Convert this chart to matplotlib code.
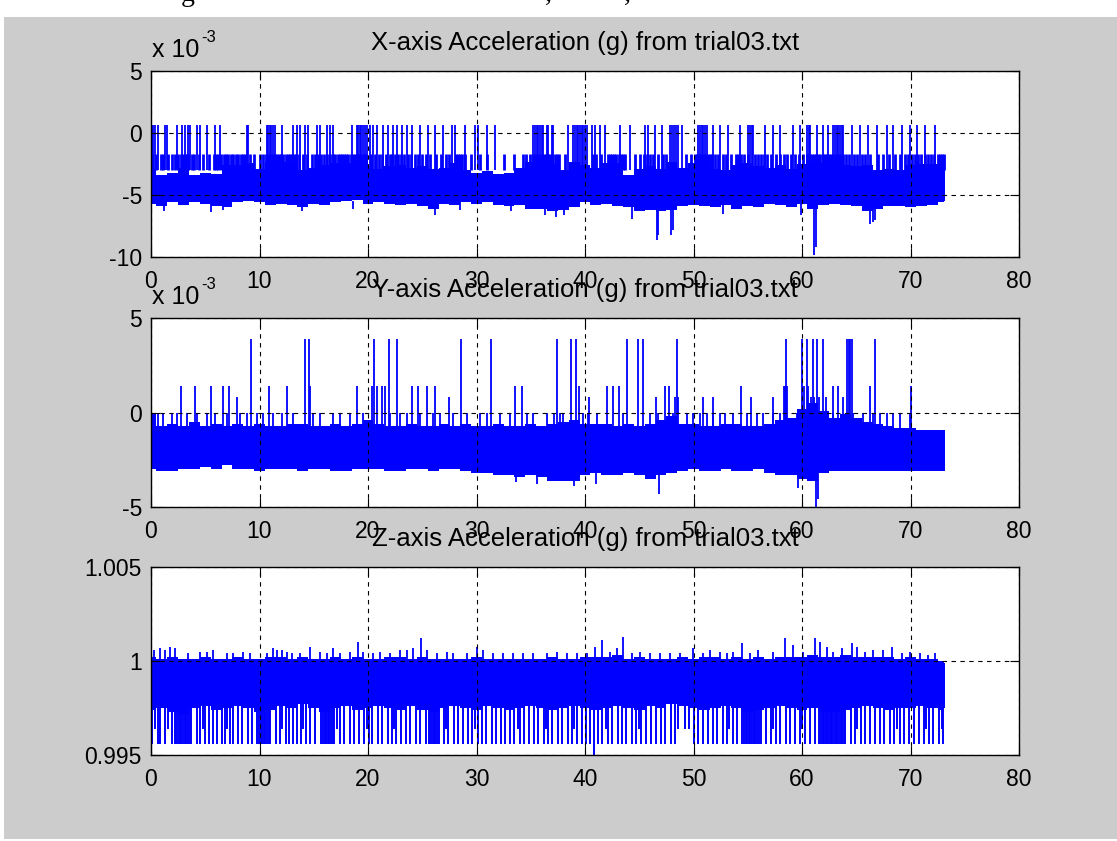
import matplotlib
matplotlib.use('Agg')
import matplotlib.pyplot as plt
from matplotlib.patches import Rectangle

plt.rcParams['font.family'] = ['Liberation Sans', 'DejaVu Sans']
plt.rcParams['axes.unicode_minus'] = False

# ---- data ----
# envelope samples, one per second, last sample = end of record (73.2 s)
env_t = list(range(74)) + [73.2]

# X-axis (units of 1e-3 g): top / bottom of the solid band
x_hi = [-2.9, -3.4, -3.2, -2.8, -3.4, -3.2, -3.3, -2.6, -2.6, -2.4,
        -2.9, -2.3, -2.3, -2.4, -3.0, -2.8, -2.6, -2.4, -2.4, -2.3,
        -2.8, -2.9, -2.7, -2.6, -2.8, -2.7, -2.9, -2.8, -2.4, -3.0,
        -3.2, -3.1, -3.3, -3.2, -2.8, -2.3, -2.3, -2.5, -3.0, -2.3,
        -2.6, -2.8, -2.4, -2.4, -3.4, -2.9, -2.7, -2.9, -2.3, -2.8,
        -2.4, -2.3, -2.9, -3.0, -2.6, -2.4, -2.7, -2.8, -2.6, -2.9,
        -2.5, -2.4, -2.4, -2.3, -2.6, -2.7, -2.6, -3.0, -2.9, -3.0,
        -2.6, -2.5, -2.5, -2.2, -2.2]
x_lo = [-5.7, -5.9, -5.6, -5.8, -5.6, -5.7, -5.9, -6.0, -5.6, -5.5,
        -5.6, -5.8, -5.7, -5.8, -6.0, -5.7, -5.8, -5.6, -5.5, -5.4,
        -5.7, -5.6, -5.7, -5.8, -5.7, -5.9, -6.1, -5.7, -5.8, -5.6,
        -5.7, -5.6, -5.8, -5.9, -5.8, -6.1, -6.1, -6.3, -6.2, -6.0,
        -5.6, -5.8, -5.7, -5.9, -6.0, -6.3, -6.2, -6.3, -6.2, -5.9,
        -5.8, -5.9, -6.0, -5.8, -6.1, -5.9, -6.0, -5.7, -5.8, -6.0,
        -5.7, -6.1, -5.8, -5.7, -5.8, -5.9, -6.3, -6.1, -5.9, -5.9,
        -6.0, -5.9, -5.8, -5.6, -5.5]
# swings up to the -1.7e-3 level
x_mid_level = -1.7
x_mid_t = [0.1, 0.5, 0.9, 1.1, 1.6, 1.9, 2.2, 2.5, 2.8, 2.95, 3.1, 3.25, 3.4,
           3.8, 4.0, 4.4, 4.8, 5.3, 5.8, 6.0, 6.2, 6.45, 6.7, 6.9, 7.1, 7.35,
           7.6, 7.8, 8.0, 8.25, 8.5, 8.7, 9.1, 9.5, 10.0, 10.3, 10.6, 10.8, 11.0,
           11.2, 11.4, 11.6, 11.8, 12.0, 12.2, 12.4, 12.6, 12.8, 13.0, 13.2, 13.4,
           13.6, 14.0, 14.4, 14.8, 15.1, 15.4, 15.7, 15.9, 16.2, 16.5, 16.8, 17.0,
           17.2, 17.4, 17.6, 17.8, 18.0, 18.2, 18.4, 18.6, 18.8, 19.0, 19.2, 19.4,
           19.6, 19.8, 20.3, 20.6, 21.0, 21.3, 21.7, 22.0, 22.2, 22.5, 22.8, 23.0,
           23.3, 23.7, 24.0, 24.3, 24.6, 25.0, 25.3, 25.7, 26.3, 26.7, 27.2, 27.5,
           28.1, 28.3, 28.5, 28.7, 28.9, 29.5, 30.3, 31.0, 32.5, 33.5, 34.3, 34.6,
           34.9, 35.2, 35.4, 35.6, 35.8, 36.0, 36.2, 36.4, 36.6, 36.8, 37.0, 37.2,
           37.4, 37.6, 38.2, 40.7, 41.0, 41.5, 42.1, 42.3, 42.5, 42.7, 42.9, 43.1,
           43.3, 43.5, 43.7, 44.6, 45.1, 45.4, 45.7, 46.0, 46.3, 46.7, 47.2, 47.5,
           49.3, 49.8, 50.1, 50.3, 50.5, 50.7, 50.9, 51.1, 51.3, 51.5, 51.7, 52.0,
           52.3, 52.7, 53.0, 53.5, 53.9, 54.1, 54.4, 54.7, 55.0, 55.7, 55.9, 56.2,
           56.5, 56.8, 57.1, 57.6, 58.0, 58.3, 58.6, 59.0, 59.4, 59.7, 60.1, 60.5,
           60.7, 60.9, 61.1, 61.3, 61.5, 61.7, 61.9, 62.1, 62.3, 62.5, 62.7, 62.9,
           63.1, 63.3, 63.5, 63.8, 64.1, 64.3, 64.8, 65.1, 65.5, 65.8, 66.3, 67.0,
           67.5, 68.0, 68.6, 69.0, 69.5, 69.8, 70.1, 70.4, 70.7, 71.0, 71.3, 71.6,
           71.9, 72.2, 72.5, 72.7, 72.9, 73.1]
# spikes up to the 0.65e-3 level
x_up_level = 0.65
x_up_t = [0.05, 0.2, 0.35, 0.68, 1.29, 1.44, 2.37, 2.83, 3.13, 3.44, 3.59, 4.21,
          4.52, 5.13, 5.9, 6.36, 8.82, 8.97, 10.66, 10.8, 10.97, 11.1, 11.27, 11.43,
          12.04, 13.12, 13.43, 13.73, 14.19, 14.5, 15.27, 15.58, 16.19, 16.5, 16.81,
          18.5, 18.96, 19.1, 19.25, 19.4, 19.55, 19.7, 19.88, 20.2, 20.5, 20.8,
          21.42, 21.88, 22.34, 22.65, 23.1, 23.56, 24.02, 24.79, 25.56, 26.17, 26.94,
          27.71, 28.02, 28.94, 29.86, 30.17, 30.94, 31.7, 35.24, 35.4, 35.55, 35.7,
          35.85, 36.0, 36.16, 36.47, 36.62, 36.93, 37.08, 38.46, 38.93, 39.1, 39.25,
          39.4, 39.55, 39.7, 39.85, 40.0, 40.15, 40.62, 40.92, 41.38, 41.84, 43.22,
          44.14, 45.53, 45.83, 46.45, 47.06, 47.82, 48.0, 48.2, 48.4, 48.6, 48.9,
          50.45, 50.6, 50.75, 50.9, 51.05, 51.21, 51.83, 52.44, 53.21, 54.29, 55.05,
          55.2, 55.35, 55.51, 56.59, 57.36, 57.97, 59.2, 59.82, 60.43, 60.6, 60.74,
          61.35, 61.97, 62.43, 62.89, 63.05, 63.2, 63.35, 63.5, 63.65, 63.81, 64.58,
          65.34, 66.11, 66.88, 67.8, 68.41, 69.18, 69.95, 70.57, 71.33, 72.25]
# downward excursions
x_dn_t = [1.2, 5.5, 6.6, 13.9, 18.6, 26.2, 28.5, 33.2, 36.3, 37.3, 38.1, 44.3,
          46.6, 46.75, 47.9, 48.1, 52.7, 59.9, 61.1, 61.25, 66.3, 66.5, 66.7]
x_dn_v = [-6.3, -6.4, -6.2, -6.3, -6.1, -6.6, -6.2, -6.3, -6.6, -6.8, -6.6, -6.9,
          -8.6, -8.2, -8.2, -7.8, -6.5, -6.6, -9.8, -9.2, -7.3, -7.2, -7.0]

# Y-axis (units of 1e-3 g)
y_hi = [0.0, -0.7, -0.6, -0.7, -0.5, -0.7, -0.6, -0.7, -0.6, -0.7,
        -0.6, -0.7, -0.7, -0.6, -0.6, -0.7, -0.7, -0.6, -0.7, -0.6,
        -0.4, -0.6, -0.7, -0.7, -0.6, -0.7, -0.7, -0.6, -0.7, -0.6,
        -0.7, -0.7, -0.6, -0.7, -0.7, -0.6, -0.7, -0.6, -0.5, -0.4,
        -0.6, -0.6, -0.6, -0.7, -0.6, -0.7, -0.6, -0.4, -0.2, -0.6,
        -0.6, -0.7, -0.7, -0.6, -0.6, -0.7, -0.7, -0.6, -0.4, -0.3,
        0.2, 0.5, 0.1, -0.3, -0.1, -0.3, -0.5, -0.6, -0.7, -0.8,
        -0.8, -0.9, -0.9, -0.9, -0.9]
y_lo = [-3.0, -3.1, -3.1, -3.0, -3.0, -2.9, -3.0, -2.8, -3.0, -3.0,
        -3.1, -3.0, -3.0, -3.0, -3.1, -3.0, -3.0, -3.1, -3.1, -3.0,
        -3.0, -3.0, -3.1, -3.1, -3.0, -3.0, -3.1, -3.0, -3.0, -3.1,
        -3.2, -3.2, -3.3, -3.3, -3.4, -3.3, -3.4, -3.6, -3.6, -3.6,
        -3.3, -3.2, -3.3, -3.3, -3.2, -3.3, -3.5, -3.3, -3.2, -3.1,
        -3.0, -3.1, -3.1, -3.0, -3.1, -3.1, -3.0, -3.2, -3.3, -3.3,
        -3.5, -3.6, -3.2, -3.1, -3.1, -3.1, -3.1, -3.1, -3.1, -3.1,
        -3.1, -3.1, -3.1, -3.1, -3.1]
y_tall_level = 3.9
y_tall_t = [9.22, 14.19, 14.59, 20.58, 21.9, 22.64, 28.57, 31.3, 37.39, 38.68,
            39.17, 43.9, 44.91, 45.31, 48.45, 58.5, 59.97, 60.43, 60.98, 61.35,
            61.9, 64.14, 64.3, 64.45, 64.6, 66.73]
y_mid_level = 1.4
y_mid_t = [2.74, 4.05, 5.5, 6.67, 7.22, 10.87, 12.5, 14.65, 18.95, 20.34, 20.8,
           21.26, 21.57, 24.03, 24.64, 25.41, 26.18, 33.55, 34.16, 39.48, 42.0,
           42.55, 43.17, 47.37, 47.78, 54.38, 58.3, 58.44, 58.6, 60.22, 60.52,
           62.83, 63.35, 66.27, 70.05]
y_small_level = 0.8
y_small_t = [7.9, 27.47, 40.4, 46.5, 48.3, 48.6, 50.9, 51.8, 55.3, 57.3, 60.8,
             61.1, 61.6, 62.2, 63.8]
y_teeth_level = 0.0
y_teeth_t = [0.21, 0.68, 1.14, 1.9, 2.37, 3.29, 4.21, 5.13, 5.9, 6.97, 8.2, 8.82,
             9.74, 10.35, 11.27, 12.04, 13.12, 14.96, 15.58, 16.81, 17.42, 18.35,
             19.57, 22.03, 22.95, 23.56, 24.79, 26.02, 26.63, 27.86, 29.09, 30.32,
             30.94, 32.17, 33.09, 34.62, 35.24, 36.47, 37.1, 37.7, 38.0, 39.85,
             40.3, 41.07, 43.53, 45.99, 46.75, 48.14, 49.37, 49.98, 50.6, 51.21,
             51.83, 52.44, 52.9, 53.67, 54.9, 55.82, 56.44, 57.36, 57.97, 59.51,
             62.27, 62.89, 64.73, 65.65, 66.57, 67.19, 67.8, 68.41, 69.03, 69.95]
y_dn_t = [33.6, 35.6, 39.0, 41.0, 46.8, 59.6, 61.3, 61.45]
y_dn_v = [-3.7, -3.8, -3.9, -3.8, -4.3, -4.0, -5.0, -4.6]

# Z-axis (g)
z_hi = [1.0002, 1.0001, 1.0002, 1.0001, 1.0001, 1.0002, 1.0001, 1.0001, 1.0002, 1.0001,
        1.0001, 1.0002, 1.0002, 1.0001, 1.0002, 1.0001, 1.0001, 1.0002, 1.0001, 1.0002,
        1.0001, 1.0001, 1.0002, 1.0002, 1.0001, 1.0002, 1.0001, 1.0001, 1.0001, 1.0001,
        1.0002, 1.0001, 1.0001, 1.0001, 1.0001, 1.0001, 1.0001, 1.0002, 1.0001, 1.0001,
        1.0002, 1.0002, 1.0002, 1.0003, 1.0001, 1.0002, 1.0001, 1.0001, 1.0001, 1.0002,
        1.0001, 1.0002, 1.0002, 1.0001, 1.0002, 1.0001, 1.0002, 1.0001, 1.0002, 1.0002,
        1.0002, 1.0003, 1.0002, 1.0002, 1.0003, 1.0002, 1.0002, 1.0002, 1.0002, 1.0001,
        1.0002, 1.0001, 1.0001, 1.0000, 0.9999]
z_lo = [0.9974, 0.9975, 0.9973, 0.9972, 0.9975, 0.9976, 0.9974, 0.9975, 0.9976, 0.9975,
        0.9973, 0.9974, 0.9976, 0.9975, 0.9977, 0.9975, 0.9973, 0.9975, 0.9976, 0.9974,
        0.9975, 0.9976, 0.9975, 0.9974, 0.9976, 0.9974, 0.9973, 0.9975, 0.9976, 0.9975,
        0.9974, 0.9976, 0.9975, 0.9974, 0.9975, 0.9976, 0.9975, 0.9974, 0.9975, 0.9976,
        0.9975, 0.9974, 0.9975, 0.9976, 0.9975, 0.9974, 0.9976, 0.9975, 0.9977, 0.9976,
        0.9975, 0.9974, 0.9975, 0.9976, 0.9975, 0.9973, 0.9974, 0.9975, 0.9976, 0.9975,
        0.9974, 0.9975, 0.9973, 0.9973, 0.9974, 0.9975, 0.9976, 0.9975, 0.9974, 0.9975,
        0.9975, 0.9976, 0.9975, 0.9974, 0.9975]
z_up_t = [0.28, 0.83, 1.29, 1.75, 2.21, 3.44, 4.52, 5.13, 5.74, 6.97, 7.59, 8.51,
          9.12, 10.66, 11.27, 11.58, 12.04, 12.5, 12.97, 13.73, 14.65, 15.58, 16.19,
          16.81, 17.42, 18.35, 19.11, 19.57, 20.49, 21.11, 22.03, 22.95, 23.56, 24.18,
          24.85, 25.41, 26.33, 27.25, 27.86, 29.09, 30.01, 30.63, 31.55, 32.47, 33.39,
          34.31, 35.24, 36.47, 37.39, 38.31, 39.22, 40.15, 40.92, 41.54, 42.3, 42.92,
          43.53, 44.3, 45.07, 45.99, 46.91, 47.83, 48.76, 49.98, 50.9, 51.52, 52.44,
          53.06, 53.67, 54.44, 55.21, 55.98, 57.36, 58.43, 59.2, 60.12, 61.2, 61.66,
          62.27, 62.89, 63.66, 64.58, 65.04, 65.81, 66.58, 67.5, 68.26, 69.18, 69.95,
          70.87, 71.64, 72.25]
z_up_v = [1.00058, 1.00067, 1.00058, 1.00076, 1.00067, 1.00041, 1.0005, 1.0005, 1.00058,
          1.00041, 1.00041, 1.0005, 1.00041, 1.00041, 1.00067, 1.00058, 1.00058, 1.0005,
          1.00041, 1.00041, 1.00076, 1.0005, 1.00041, 1.00067, 1.00041, 1.0005, 1.00103,
          1.0005, 1.00041, 1.0005, 1.00041, 1.00058, 1.00058, 1.00067, 1.00121, 1.00058,
          1.00041, 1.0005, 1.00041, 1.00041, 1.00076, 1.00058, 1.00041, 1.00041, 1.00041,
          1.00041, 1.00041, 1.00041, 1.0005, 1.00041, 1.00041, 1.00041, 1.00076, 1.00112,
          1.0005, 1.00067, 1.00129, 1.00041, 1.0005, 1.00041, 1.00041, 1.00041, 1.00041,
          1.00067, 1.00041, 1.00058, 1.0005, 1.00041, 1.0005, 1.00094, 1.00041, 1.00058,
          1.0005, 1.00121, 1.00085, 1.0005, 1.00121, 1.00103, 1.00076, 1.0005, 1.00067,
          1.00094, 1.00076, 1.0005, 1.00058, 1.00058, 1.00076, 1.00041, 1.0005, 1.00041,
          1.00032, 1.00041]
# downward spikes reaching the 0.99558 floor
z_floor = 0.99558
z_dn_t = [0.1, 0.6, 0.8, 1.3, 1.9, 2.2, 2.35, 2.5, 2.65, 2.8, 2.95, 3.1, 3.25, 3.4,
          3.55, 3.7, 4.2, 4.5, 5.0, 5.3, 5.7, 6.1, 6.5, 6.8, 7.3, 7.6, 8.0, 8.4, 8.9,
          9.3, 9.8, 9.95, 10.1, 10.25, 10.4, 10.55, 10.7, 10.85, 11.0, 11.5, 11.9,
          12.4, 12.7, 13.1, 13.5, 13.8, 14.3, 14.7, 15.1, 15.7, 15.85, 16.0, 16.15,
          16.3, 16.45, 16.6, 16.75, 16.9, 17.4, 17.8, 18.3, 18.7, 19.2, 19.6, 20.1,
          20.4, 20.9, 21.3, 21.8, 22.2, 22.6, 23.0, 23.5, 23.9, 24.4, 24.8, 25.3,
          25.6, 25.75, 25.9, 26.05, 26.2, 26.35, 26.5, 27.0, 27.4, 27.9, 28.3, 28.8,
          29.2, 29.6, 30.1, 30.5, 30.9, 31.4, 31.8, 32.3, 32.6, 33.1, 33.5, 34.0,
          34.4, 34.8, 35.3, 35.7, 36.2, 36.6, 37.0, 37.5, 37.9, 38.4, 38.8, 39.3,
          39.7, 40.1, 40.5, 41.2, 41.6, 42.1, 42.5, 43.0, 43.4, 43.8, 44.3, 44.7,
          45.2, 45.6, 46.1, 46.5, 47.0, 47.4, 47.9, 48.3, 50.0, 50.4, 50.9, 51.3,
          51.8, 52.2, 52.7, 53.1, 53.6, 54.0, 54.5, 54.65, 54.8, 54.95, 55.1, 55.25,
          55.4, 55.55, 55.7, 55.85, 56.0, 56.2, 56.7, 57.1, 57.6, 58.0, 58.5, 58.9,
          59.4, 59.8, 60.3, 60.7, 61.2, 61.6, 61.75, 61.9, 62.05, 62.2, 62.35, 62.5,
          62.65, 62.8, 62.95, 63.1, 63.25, 63.4, 63.55, 63.7, 63.85, 64.0, 64.5,
          64.9, 65.4, 65.8, 66.3, 66.7, 67.2, 67.6, 68.1, 68.5, 69.0, 69.4, 69.9,
          70.3, 70.8, 71.2, 71.7, 72.1, 72.6, 73.0]
# shorter downward spikes
z_short_level = 0.9964
z_short_t = [0.4, 1.6, 4.8, 7.0, 12.1, 14.0, 17.1, 19.9, 22.4, 27.2, 29.9, 33.8,
             36.4, 39.0, 41.9, 45.0, 48.6, 49.2, 49.6, 53.3, 57.3, 60.0, 65.1, 68.8,
             71.4, 72.9]
z_deep_t = [40.8]
z_deep_v = [0.9950]

titles = ['X-axis Acceleration (g) from trial03.txt',
          'Y-axis Acceleration (g) from trial03.txt',
          'Z-axis Acceleration (g) from trial03.txt']
x_ticks = [0, 10, 20, 30, 40, 50, 60, 70, 80]

# ---- figure ----
W, H = 1117, 841
BLUE = '#0000ff'
FS = 16.5
LW = 1.3

fig = plt.figure(figsize=(W / 100, H / 100), dpi=100, facecolor='white')
fig.patches.append(Rectangle((4 / W, 1 - 839 / H), 1 - 4 / W, (839 - 17) / H,
                             transform=fig.transFigure, facecolor='#cccccc',
                             edgecolor='none', zorder=-10))
# bits of the page caption cut off above the figure
for gx, ch in [(188, 'g'), (548, ','), (627, ',')]:
    fig.text(gx / W, 1 - 1 / H, ch, family='Liberation Serif', fontsize=20,
             va='baseline', ha='center', color='black')


def make_axes(top, bottom):
    ax = fig.add_axes([151 / W, 1 - bottom / H, (1019 - 151) / W, (bottom - top) / H])
    ax.set_zorder(1)
    ax.set_facecolor('white')
    ax.set_xlim(0, 80)
    ax.set_xticks(x_ticks)
    ax.grid(True, color='black', linestyle=(0, (4, 4)), linewidth=0.8)
    ax.set_axisbelow(False)
    ax.tick_params(direction='in', length=6.5, width=0.8, labelsize=FS,
                   top=True, right=True, colors='black')
    ax.tick_params(axis='x', pad=9.0)
    ax.tick_params(axis='y', pad=6.5)
    for s in ax.spines.values():
        s.set_linewidth(1.0)
        s.set_color('black')
    return ax


def exponent_label(ax_top):
    base = 1 - (ax_top - 14) / H
    fig.text(152 / W, base, 'x 10', fontsize=18, va='baseline', ha='left', zorder=2)
    fig.text(201 / W, base + 15 / H, '-3', fontsize=12, va='baseline', ha='left',
             zorder=2)


#step 1 X axis
ax1 = make_axes(71, 257)
ax1.fill_between(env_t, x_lo, x_hi, step='mid', color=BLUE, linewidth=0, zorder=2)
ax1.vlines(x_mid_t, -3.0, x_mid_level, colors=BLUE, linewidth=2.0, zorder=2)
ax1.vlines(x_up_t, -3.0, x_up_level, colors=BLUE, linewidth=LW, zorder=2)
ax1.vlines(x_dn_t, -5.5, x_dn_v, colors=BLUE, linewidth=LW, zorder=2)
ax1.set_ylim(-10, 5)
ax1.set_yticks([-10, -5, 0, 5])
ax1.set_title(titles[0], fontsize=18.5, pad=15)
exponent_label(71)

#step 2 Y axis
ax2 = make_axes(318, 507)
ax2.fill_between(env_t, y_lo, y_hi, step='mid', color=BLUE, linewidth=0, zorder=2)
ax2.vlines(y_teeth_t, -1.0, y_teeth_level, colors=BLUE, linewidth=LW, zorder=2)
ax2.vlines(y_small_t, -1.0, y_small_level, colors=BLUE, linewidth=LW, zorder=2)
ax2.vlines(y_mid_t, -1.0, y_mid_level, colors=BLUE, linewidth=LW, zorder=2)
ax2.vlines(y_tall_t, -1.0, y_tall_level, colors=BLUE, linewidth=LW, zorder=2)
ax2.vlines(y_dn_t, -3.0, y_dn_v, colors=BLUE, linewidth=LW, zorder=2)
ax2.set_ylim(-5, 5)
ax2.set_yticks([-5, 0, 5])
ax2.set_title(titles[1], fontsize=18.5, pad=15)
exponent_label(318)

#step 3 Z axis
ax3 = make_axes(567, 755)
ax3.fill_between(env_t, z_lo, z_hi, step='mid', color=BLUE, linewidth=0, zorder=2)
ax3.vlines(z_up_t, 0.9999, z_up_v, colors=BLUE, linewidth=LW, zorder=2)
ax3.vlines(z_dn_t, 0.998, z_floor, colors=BLUE, linewidth=1.4, zorder=2)
ax3.vlines(z_short_t, 0.998, z_short_level, colors=BLUE, linewidth=1.4, zorder=2)
ax3.vlines(z_deep_t, 0.998, z_deep_v, colors=BLUE, linewidth=1.4, zorder=2)
ax3.set_ylim(0.995, 1.005)
ax3.set_yticks([0.995, 1.0, 1.005])
ax3.set_yticklabels(['0.995', '1', '1.005'])
ax3.set_title(titles[2], fontsize=18.5, pad=15)

fig.savefig('out.png', dpi=100, facecolor=fig.get_facecolor())
